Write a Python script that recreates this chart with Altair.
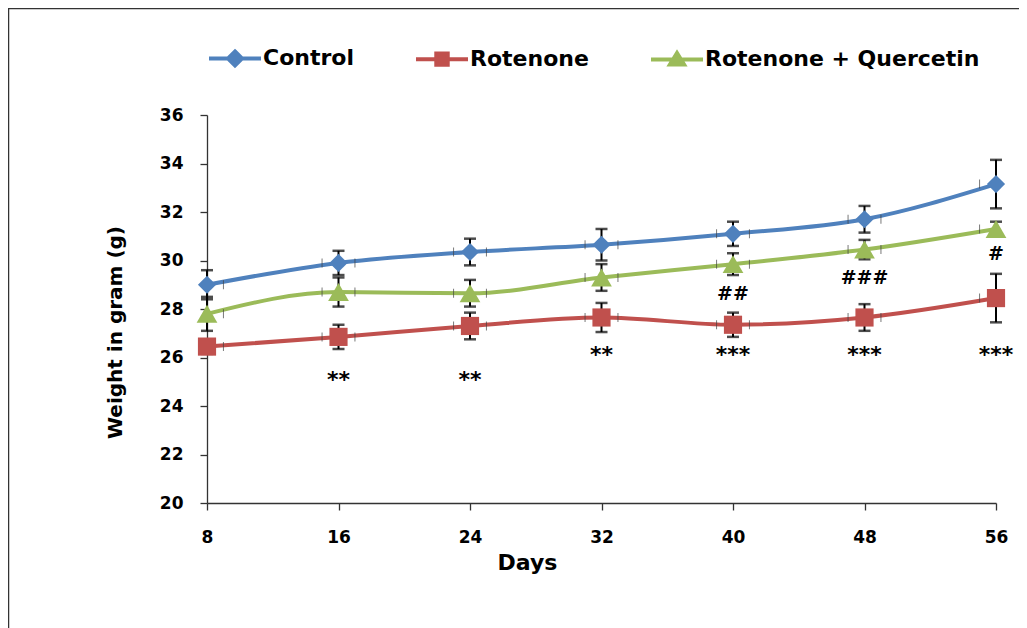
import altair as alt
import pandas as pd

# ---------------- data ----------------
days = [8, 16, 24, 32, 40, 48, 56]
groups = ["Control", "Rotenone", "Rotenone + Quercetin"]
control = [29.0, 29.9, 30.35, 30.65, 31.1, 31.7, 33.15]
control_err = [0.6, 0.5, 0.55, 0.65, 0.5, 0.55, 1.0]
rotenone = [26.45, 26.85, 27.3, 27.65, 27.35, 27.65, 28.45]
rotenone_err = [0.3, 0.5, 0.55, 0.6, 0.5, 0.55, 1.0]
quercetin = [27.8, 28.7, 28.65, 29.3, 29.85, 30.45, 31.3]
quercetin_err = [0.7, 0.6, 0.55, 0.55, 0.45, 0.4, 0.3]
day_err = 1.0

star_days = [16, 24, 32, 40, 48, 56]
star_labels = ["**", "**", "**", "***", "***", "***"]
star_y = [25.08, 25.08, 26.12, 26.12, 26.12, 26.12]
hash_days = [40, 48, 56]
hash_labels = ["##", "###", "#"]
hash_y = [28.62, 29.28, 30.28]

y_ticks = [20, 22, 24, 26, 28, 30, 32, 34, 36]
colors = ["#4F81BD", "#C0504D", "#9BBB59"]
marker_shapes = ["diamond", "square", "triangle-up"]
marker_sizes = [330, 330, 430]
legend_paths = [
    "M-1,0L1,0M0,-0.27L0.27,0L0,0.27L-0.27,0Z",
    "M-1,0L1,0M-0.22,-0.22L0.22,-0.22L0.22,0.22L-0.22,0.22Z",
    "M-1,0L1,0M0,-0.24L0.27,0.2L-0.27,0.2Z",
]

FONT = "DejaVu Sans"

rows = []
for g, vals, errs in zip(groups, [control, rotenone, quercetin],
                         [control_err, rotenone_err, quercetin_err]):
    for d, v, e in zip(days, vals, errs):
        rows.append({"group": g, "day": d, "w": v, "lo": v - e, "hi": v + e,
                     "xlo": d - day_err, "xhi": d + day_err})
df = pd.DataFrame(rows)

ann = pd.DataFrame({
    "day": star_days + hash_days,
    "y": star_y + hash_y,
    "label": star_labels + hash_labels,
    "kind": ["star"] * len(star_days) + ["hash"] * len(hash_days),
})

# ---------------- scales / axes ----------------
xscale = alt.Scale(domain=[8, 56], nice=False, zero=False)
yscale = alt.Scale(domain=[20, 36], nice=False, zero=False)
xaxis = alt.Axis(values=days, title="Days", tickSize=7, labelPadding=19,
                 labelFlush=False, titleX=320, titleY=59, titleBaseline="middle",
                 titleFontSize=22, labelFontSize=17)
yaxis = alt.Axis(values=y_ticks, title="Weight in gram (g)", tickSize=7,
                 labelPadding=17, titleX=-92, titleY=217, titleAngle=-90,
                 titleBaseline="middle", titleAlign="center",
                 titleFontSize=20, labelFontSize=17)

fill_scale = alt.Scale(domain=groups, range=colors)
stroke_scale = alt.Scale(domain=groups, range=colors)
shape_scale = alt.Scale(domain=groups, range=legend_paths)

X = alt.X("day:Q", scale=xscale, axis=xaxis)
Y = alt.Y("w:Q", scale=yscale, axis=yaxis)

base = alt.Chart(df)

leg = alt.Legend(title=None, orient="none", legendX=0, legendY=-85,
                 direction="horizontal", symbolSize=2704, symbolStrokeWidth=4,
                 labelFont=FONT, labelFontSize=22, labelFontWeight="bold",
                 labelColor="black", columnPadding=54, labelOffset=0,
                 padding=0, labelLimit=500)
legend_layer = base.mark_point(filled=True, size=0, opacity=1).encode(
    x=X, y=Y,
    fill=alt.Fill("group:N", scale=fill_scale, legend=leg),
    stroke=alt.Stroke("group:N", scale=stroke_scale, legend=leg),
    shape=alt.Shape("group:N", scale=shape_scale, legend=leg),
)

lines = base.mark_line(interpolate="monotone", strokeWidth=4).encode(
    x=X, y=Y, stroke=alt.Stroke("group:N", scale=stroke_scale, legend=None)
)

err_rule = base.mark_rule(color="black", strokeWidth=2).encode(
    x=X, y=alt.Y("lo:Q", scale=yscale, axis=yaxis), y2="hi:Q"
)
cap_lo = base.mark_tick(orient="horizontal", size=12, thickness=2.5, color="black").encode(
    x=X, y=alt.Y("lo:Q", scale=yscale, axis=yaxis)
)
cap_hi = base.mark_tick(orient="horizontal", size=12, thickness=2.5, color="black").encode(
    x=X, y=alt.Y("hi:Q", scale=yscale, axis=yaxis)
)
xcap_lo = base.mark_tick(orient="vertical", size=9, thickness=1, color="#404040",
                         clip=True).encode(
    x=alt.X("xlo:Q", scale=xscale, axis=xaxis), y=Y
)
xcap_hi = base.mark_tick(orient="vertical", size=9, thickness=1, color="#404040",
                         clip=True).encode(
    x=alt.X("xhi:Q", scale=xscale, axis=xaxis), y=Y
)

markers = []
for g, s, sz in zip(groups, marker_shapes, marker_sizes):
    markers.append(
        base.transform_filter(alt.datum.group == g)
        .mark_point(filled=True, shape=s, size=sz, opacity=1)
        .encode(x=X, y=Y, fill=alt.Fill("group:N", scale=fill_scale, legend=None))
    )

ann_base = alt.Chart(ann)
stars = ann_base.transform_filter(alt.datum.kind == "star").mark_text(
    font=FONT, fontSize=22, fontWeight="bold", color="black", baseline="middle"
).encode(x=alt.X("day:Q", scale=xscale, axis=xaxis),
         y=alt.Y("y:Q", scale=yscale, axis=yaxis), text="label:N")
hashes = ann_base.transform_filter(alt.datum.kind == "hash").mark_text(
    font=FONT, fontSize=19, fontWeight="bold", color="black", baseline="middle"
).encode(x=alt.X("day:Q", scale=xscale, axis=xaxis),
         y=alt.Y("y:Q", scale=yscale, axis=yaxis), text="label:N")

frame_df = alt.Chart(pd.DataFrame({"k": [0]}))
frame_top = frame_df.mark_rule(color="#333333", strokeWidth=1.5).encode(
    x=alt.value(-199), x2=alt.value(830), y=alt.value(-106.5)
)
frame_left = frame_df.mark_rule(color="#333333", strokeWidth=1.5).encode(
    x=alt.value(-198.5), y=alt.value(-107), y2=alt.value(520)
)

chart = alt.layer(
    legend_layer, frame_top, frame_left,
    lines, err_rule, cap_lo, cap_hi, xcap_lo, xcap_hi,
    *markers, stars, hashes,
).properties(
    width=789, height=388,
    autosize=alt.AutoSizeParams(type="none"),
    padding={"left": 199, "top": 107, "right": 23, "bottom": 125},
    background="white",
).configure_view(stroke=None).configure_axis(
    grid=False, domainColor="#333333", tickColor="#333333", domainWidth=1.3,
    tickWidth=1.3, labelFont=FONT, labelFontWeight="bold", labelColor="black",
    titleFont=FONT, titleFontWeight="bold", titleColor="black",
)

chart.save("out.html", embed_options={"renderer": "svg", "actions": False})
